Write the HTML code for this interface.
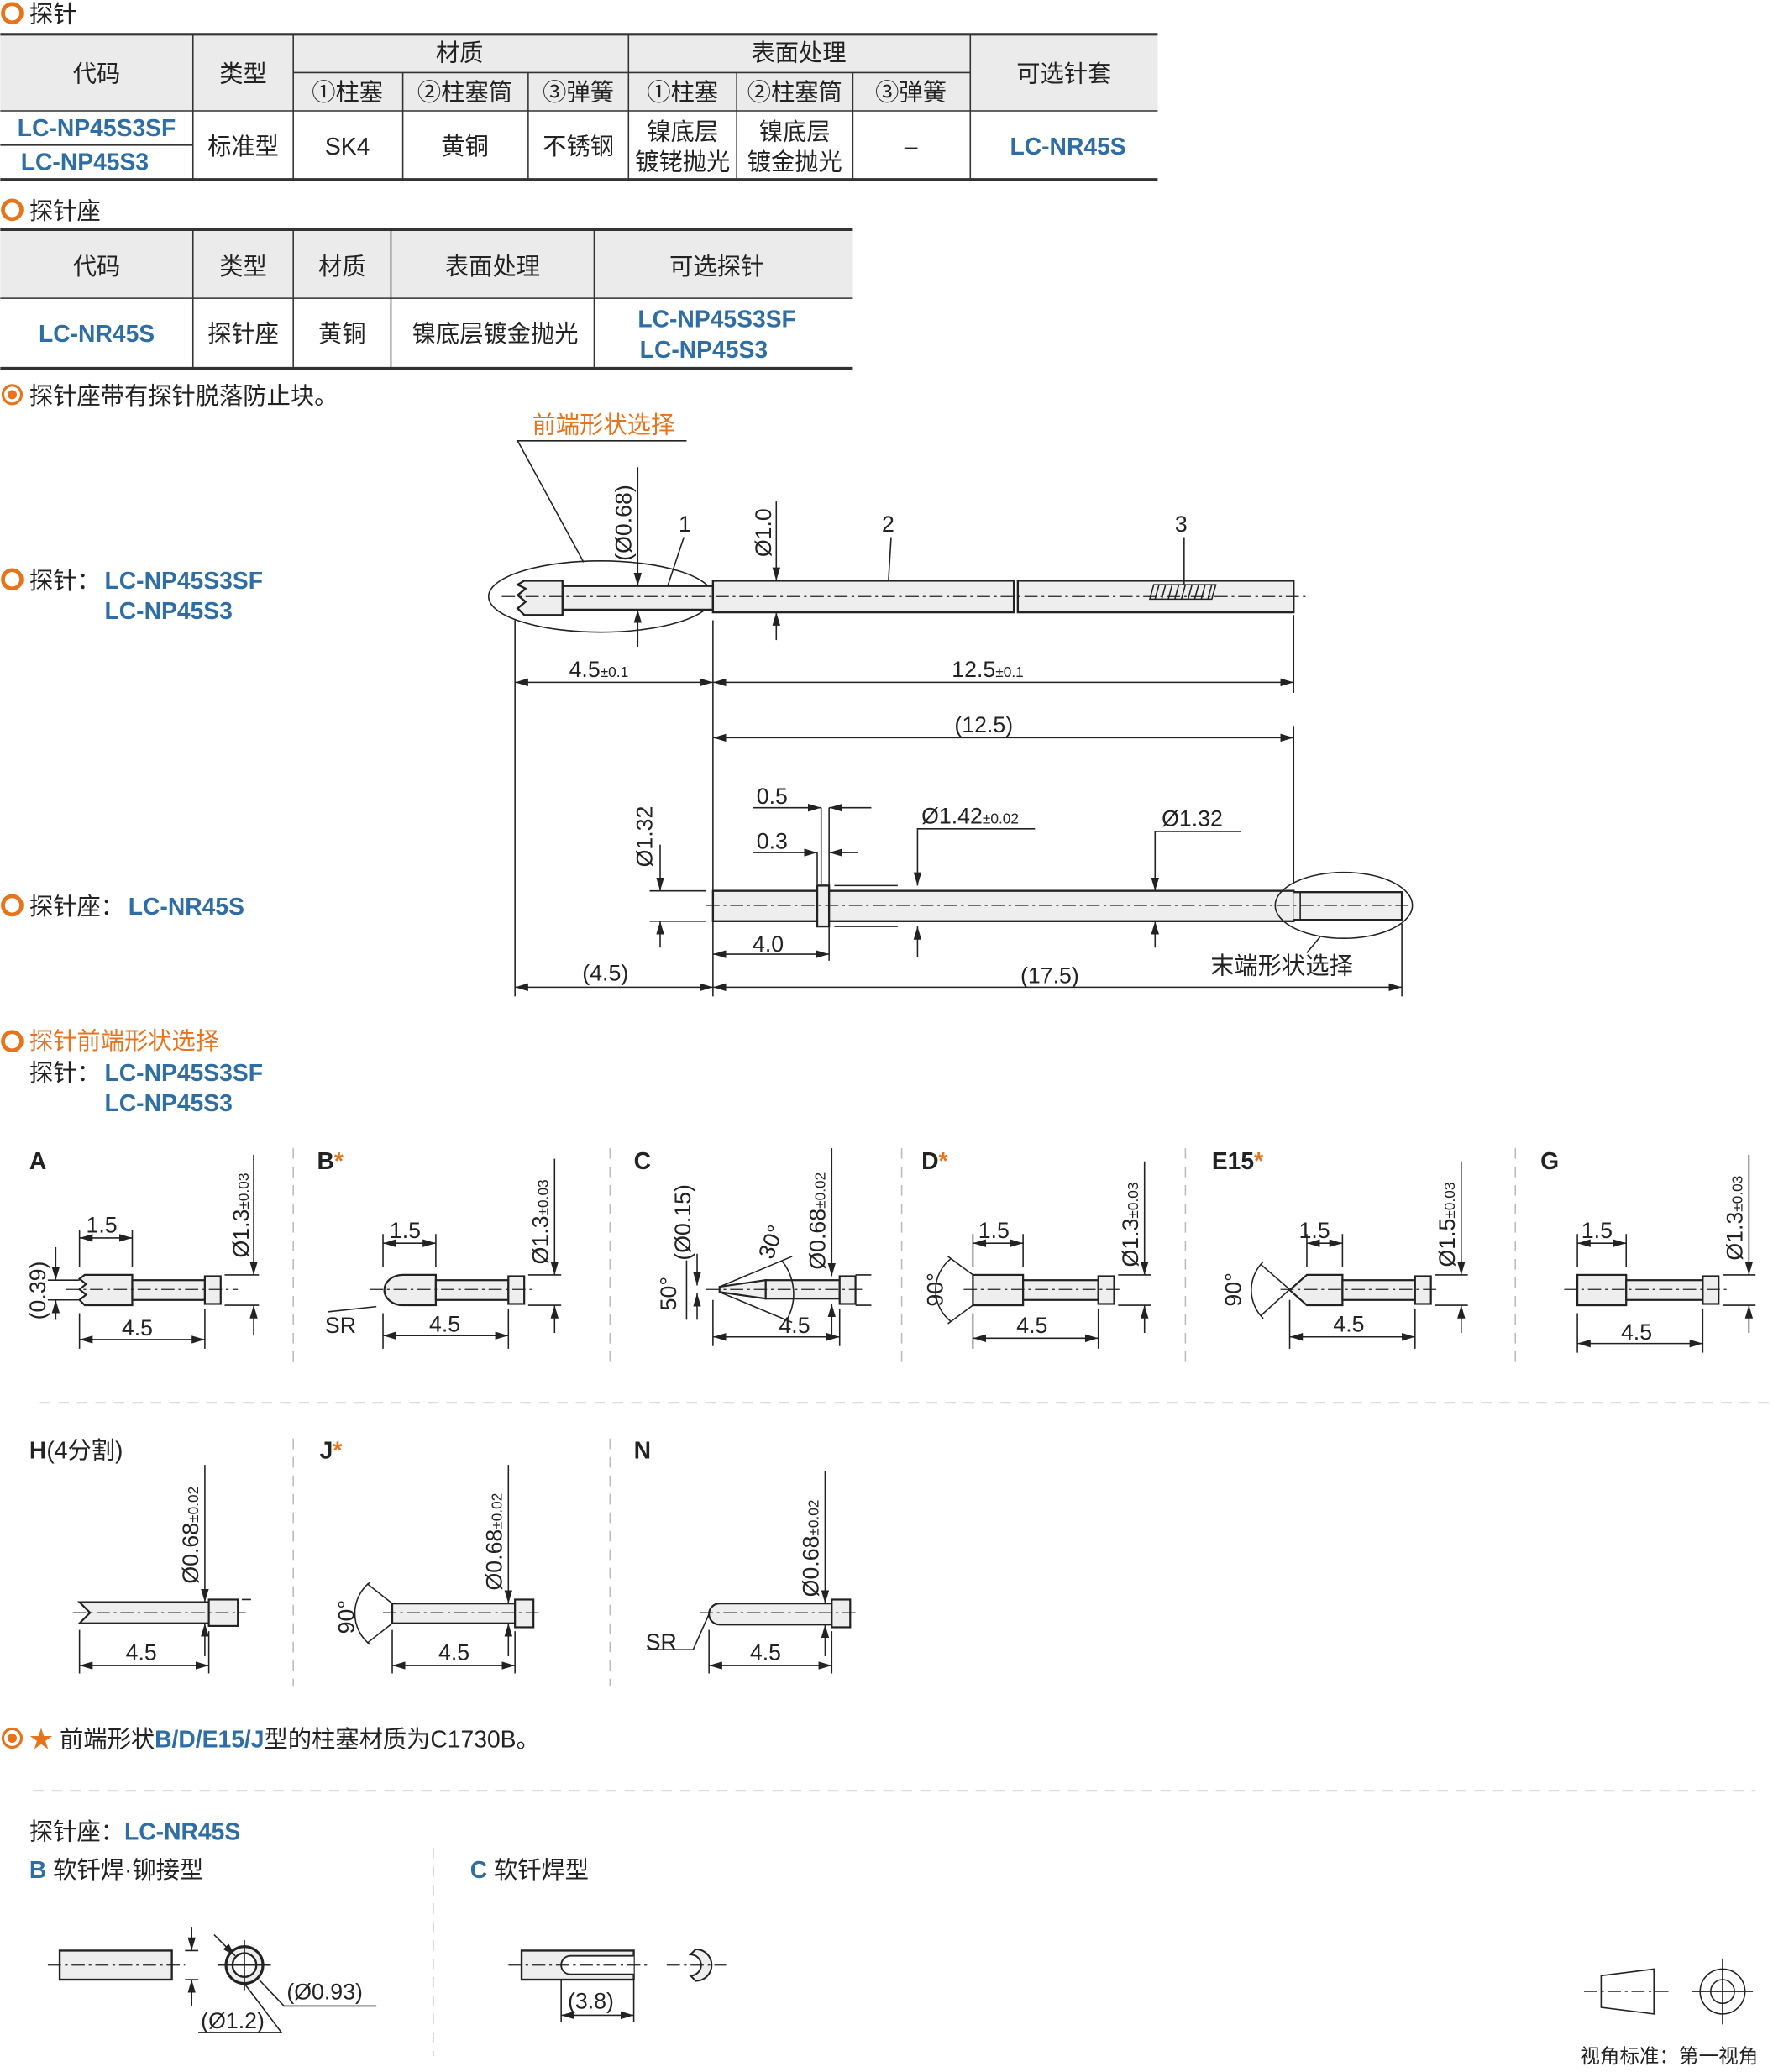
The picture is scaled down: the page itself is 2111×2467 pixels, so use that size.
<!DOCTYPE html>
<html><head><meta charset="utf-8"><style>
html,body{margin:0;padding:0;background:#fff}
svg{display:block}
text{font-family:"Liberation Sans","Noto Sans CJK SC",sans-serif;fill:#222}
.t{font-size:18px}
.b{fill:#2f6ea4;font-weight:bold}
.o{fill:#e8731a}
.d{font-size:17px}
.s{font-size:11px}
.ln{stroke:#222;stroke-width:1;fill:none}
.cl{stroke:#222;stroke-width:0.8;stroke-dasharray:10 3 2 3;fill:none}
.sep{stroke:#bbb;stroke-width:1;stroke-dasharray:8 6}
</style></head><body>
<svg width="2111" height="2467" viewBox="0 0 1343 1570" xmlns="http://www.w3.org/2000/svg">
<defs>
<marker id="a" viewBox="0 0 10 6" refX="10" refY="3" markerWidth="10" markerHeight="6" orient="auto-start-reverse" markerUnits="userSpaceOnUse"><path d="M0,0L10,3L0,6z" fill="#222"/></marker>
<g id="oc"><circle r="7" fill="none" stroke="#e8731a" stroke-width="3"/></g>
<g id="oc2"><circle r="7" fill="none" stroke="#e8731a" stroke-width="2"/><circle r="3.5" fill="#e8731a"/></g>
</defs>

<!-- Table 1 -->
<use href="#oc" x="9" y="10"/><text x="22" y="17" class="t">探针</text>
<rect x="0" y="26" width="877" height="58" fill="#ebebeb"/>
<g stroke="#333" stroke-width="1">
<line x1="0" y1="26" x2="877" y2="26" stroke-width="2"/>
<line x1="0" y1="84" x2="877" y2="84"/>
<line x1="0" y1="136" x2="877" y2="136" stroke-width="2"/>
<line x1="222" y1="55" x2="735" y2="55"/>
<line x1="0" y1="110" x2="146" y2="110"/>
<line x1="146" y1="26" x2="146" y2="136"/><line x1="222" y1="26" x2="222" y2="136"/>
<line x1="305" y1="55" x2="305" y2="136"/><line x1="400" y1="55" x2="400" y2="136"/>
<line x1="476" y1="26" x2="476" y2="136"/><line x1="558" y1="55" x2="558" y2="136"/>
<line x1="646" y1="55" x2="646" y2="136"/><line x1="735" y1="26" x2="735" y2="136"/>
</g>
<g class="t" text-anchor="middle">
<text x="73" y="62">代码</text><text x="184" y="62">类型</text><text x="348" y="46">材质</text><text x="605" y="46">表面处理</text><text x="806" y="62">可选针套</text>
<text x="263" y="76">①柱塞</text><text x="352" y="76">②柱塞筒</text><text x="438" y="76">③弹簧</text>
<text x="517" y="76">①柱塞</text><text x="602" y="76">②柱塞筒</text><text x="690" y="76">③弹簧</text>
<text x="73" y="103" class="b">LC-NP45S3SF</text><text x="64" y="129" class="b">LC-NP45S3</text>
<text x="184" y="117">标准型</text><text x="263" y="117">SK4</text><text x="352" y="117">黄铜</text><text x="438" y="117">不锈钢</text>
<text x="517" y="106">镍底层</text><text x="517" y="129">镀铑抛光</text>
<text x="602" y="106">镍底层</text><text x="602" y="129">镀金抛光</text>
<text x="690" y="117">–</text><text x="809" y="117" class="b">LC-NR45S</text>
</g>

<!-- Table 2 -->
<use href="#oc" x="9" y="159"/><text x="22" y="166" class="t">探针座</text>
<rect x="0" y="174" width="646" height="52" fill="#ebebeb"/>
<g stroke="#333" stroke-width="1">
<line x1="0" y1="174" x2="646" y2="174" stroke-width="2"/>
<line x1="0" y1="226" x2="646" y2="226"/>
<line x1="0" y1="279" x2="646" y2="279" stroke-width="2"/>
<line x1="146" y1="174" x2="146" y2="279"/><line x1="222" y1="174" x2="222" y2="279"/>
<line x1="296" y1="174" x2="296" y2="279"/><line x1="450" y1="174" x2="450" y2="279"/>
</g>
<g class="t" text-anchor="middle">
<text x="73" y="208">代码</text><text x="184" y="208">类型</text><text x="259" y="208">材质</text><text x="373" y="208">表面处理</text><text x="543" y="208">可选探针</text>
<text x="73" y="259" class="b">LC-NR45S</text><text x="184" y="259">探针座</text><text x="259" y="259">黄铜</text><text x="375" y="259">镍底层镀金抛光</text>
<text x="543" y="248" class="b">LC-NP45S3SF</text><text x="533" y="271" class="b">LC-NP45S3</text>
</g>
<use href="#oc2" x="9" y="299"/><text x="22" y="306" class="t">探针座带有探针脱落防止块。</text>

<!-- Probe drawing -->
<text x="22" y="446" class="t">探针：</text><text x="79" y="446" class="t b">LC-NP45S3SF</text><text x="79" y="469" class="t b">LC-NP45S3</text>
<use href="#oc" x="9" y="439"/>
<text x="457" y="328" class="t o" text-anchor="middle">前端形状选择</text>
<path class="ln" d="M520,334H392L442,426"/>
<ellipse cx="455" cy="452" rx="85" ry="27" class="ln"/>
<path d="M426,444H540V462H426Z" fill="#eee" stroke="#222" stroke-width="1.5"/>
<path d="M397,440H426V466H397L392,461L398,456L392,451L398,446L392,443Z" fill="#eee" stroke="#222" stroke-width="1.5"/>
<rect x="540" y="440" width="228" height="24" fill="#eee" stroke="#222" stroke-width="1.5"/>
<rect x="771" y="440" width="209" height="24" fill="#eee" stroke="#222" stroke-width="1.5"/>
<g class="ln"><path d="M874,443h47l-3,11h-47zM878,443l-3,11M883,443l-3,11M888,443l-3,11M893,443l-3,11M898,443l-3,11M903,443l-3,11M908,443l-3,11M913,443l-3,11M918,443l-3,11"/></g>
<line x1="380" y1="452" x2="992" y2="452" class="cl"/>
<line x1="483" y1="354" x2="483" y2="444" class="ln" marker-end="url(#a)"/>
<line x1="483" y1="490" x2="483" y2="462" class="ln" marker-end="url(#a)"/>
<text transform="translate(478,425) rotate(-90)" class="d">(Ø0.68)</text>
<line x1="588" y1="380" x2="588" y2="440" class="ln" marker-end="url(#a)"/>
<line x1="588" y1="485" x2="588" y2="464" class="ln" marker-end="url(#a)"/>
<text transform="translate(584,422) rotate(-90)" class="d">Ø1.0</text>
<text x="514" y="403" class="d">1</text><line x1="518" y1="407" x2="506" y2="443" class="ln"/>
<text x="668" y="403" class="d">2</text><line x1="675" y1="407" x2="673" y2="440" class="ln"/>
<text x="890" y="403" class="d">3</text><line x1="897" y1="407" x2="897" y2="443" class="ln"/>
<g class="ln"><line x1="390" y1="470" x2="390" y2="755"/><line x1="540" y1="470" x2="540" y2="755"/><line x1="980" y1="466" x2="980" y2="525"/></g>
<line x1="390" y1="517" x2="540" y2="517" class="ln" marker-start="url(#a)" marker-end="url(#a)"/>
<line x1="540" y1="517" x2="980" y2="517" class="ln" marker-start="url(#a)" marker-end="url(#a)"/>
<text x="431" y="513" class="d">4.5<tspan class="s">±0.1</tspan></text>
<text x="721" y="513" class="d">12.5<tspan class="s">±0.1</tspan></text>

<!-- Socket drawing -->
<text x="22" y="693" class="t">探针座：</text><text x="97" y="693" class="t b">LC-NR45S</text><use href="#oc" x="9" y="686"/>
<line x1="980" y1="550" x2="980" y2="670" class="ln"/>
<line x1="540" y1="559" x2="980" y2="559" class="ln" marker-start="url(#a)" marker-end="url(#a)"/>
<text x="723" y="555" class="d">(12.5)</text>
<rect x="540" y="675" width="440" height="23" fill="#eee" stroke="#222" stroke-width="1.5"/>
<rect x="619" y="671" width="9" height="31" fill="#eee" stroke="#222" stroke-width="1.5"/>
<path d="M980,676H1062V697H980" fill="#eee" stroke="#222" stroke-width="1.5"/>
<line x1="985" y1="676" x2="985" y2="697" class="ln"/>
<ellipse cx="1018" cy="686" rx="52" ry="25" class="ln"/>
<line x1="535" y1="686" x2="1070" y2="686" class="cl"/>
<g class="ln"><line x1="492" y1="675" x2="535" y2="675"/><line x1="492" y1="698" x2="535" y2="698"/>
<line x1="622" y1="612" x2="622" y2="670"/><line x1="628" y1="612" x2="628" y2="728"/><line x1="619" y1="646" x2="619" y2="670"/>
<line x1="632" y1="671" x2="680" y2="671"/><line x1="632" y1="702" x2="680" y2="702"/></g>
<line x1="500" y1="640" x2="500" y2="675" class="ln" marker-end="url(#a)"/>
<line x1="500" y1="718" x2="500" y2="698" class="ln" marker-end="url(#a)"/>
<text transform="translate(494,657) rotate(-90)" class="d">Ø1.32</text>
<line x1="570" y1="612" x2="622" y2="612" class="ln" marker-end="url(#a)"/>
<line x1="660" y1="612" x2="628" y2="612" class="ln" marker-end="url(#a)"/>
<text x="573" y="609" class="d">0.5</text>
<line x1="570" y1="646" x2="619" y2="646" class="ln" marker-end="url(#a)"/>
<line x1="650" y1="646" x2="628" y2="646" class="ln" marker-end="url(#a)"/>
<text x="573" y="643" class="d">0.3</text>
<path class="ln" d="M784,628H695V671" marker-end="url(#a)"/>
<line x1="695" y1="725" x2="695" y2="702" class="ln" marker-end="url(#a)"/>
<text x="698" y="624" class="d">Ø1.42<tspan class="s">±0.02</tspan></text>
<path class="ln" d="M940,630H875V675" marker-end="url(#a)"/>
<line x1="875" y1="718" x2="875" y2="698" class="ln" marker-end="url(#a)"/>
<text x="880" y="626" class="d">Ø1.32</text>
<line x1="540" y1="723" x2="628" y2="723" class="ln" marker-start="url(#a)" marker-end="url(#a)"/>
<text x="570" y="721" class="d">4.0</text>
<line x1="1062" y1="700" x2="1062" y2="755" class="ln"/>
<line x1="390" y1="748" x2="540" y2="748" class="ln" marker-start="url(#a)" marker-end="url(#a)"/>
<line x1="540" y1="748" x2="1062" y2="748" class="ln" marker-start="url(#a)" marker-end="url(#a)"/>
<text x="441" y="743" class="d">(4.5)</text><text x="773" y="745" class="d">(17.5)</text>
<text x="917" y="738" class="t">末端形状选择</text><line x1="1000" y1="710" x2="990" y2="722" class="ln"/>

<!-- Tip shapes -->
<use href="#oc" x="9" y="789"/><text x="22" y="795" class="t o">探针前端形状选择</text>
<text x="22" y="819" class="t">探针：</text><text x="79" y="819" class="t b">LC-NP45S3SF</text><text x="79" y="842" class="t b">LC-NP45S3</text>
<g class="sep"><line x1="222" y1="870" x2="222" y2="1035"/><line x1="462" y1="870" x2="462" y2="1035"/><line x1="683" y1="870" x2="683" y2="1035"/><line x1="898" y1="870" x2="898" y2="1035"/><line x1="1148" y1="870" x2="1148" y2="1035"/>
<line x1="30" y1="1063" x2="1340" y2="1063"/><line x1="222" y1="1090" x2="222" y2="1278"/><line x1="462" y1="1090" x2="462" y2="1278"/>
<line x1="25" y1="1357" x2="1330" y2="1357"/><line x1="328" y1="1400" x2="328" y2="1558"/></g>
<g class="t b"><text x="22" y="886">A</text><text x="240" y="886">B<tspan class="o">*</tspan></text><text x="480" y="886">C</text><text x="698" y="886">D<tspan class="o">*</tspan></text><text x="918" y="886">E15<tspan class="o">*</tspan></text><text x="1167" y="886">G</text>
<text x="22" y="1105">H<tspan fill="#222" font-weight="normal">(4分割)</tspan></text><text x="242" y="1105">J<tspan class="o">*</tspan></text><text x="480" y="1105">N</text></g>

<g stroke="#222" stroke-width="1.4" fill="#eee">
<path d="M64,966H100V989H64L60,985L65,981L60,977L65,973L60,969Z"/><rect x="100" y="970" width="55" height="15"/><rect x="155" y="967" width="12" height="21"/>
<path d="M305,966H330V989H305A14,11.5 0 0 1 305,966Z"/><rect x="330" y="970" width="55" height="15"/><rect x="385" y="967" width="12" height="21"/>
<path d="M545,975L580,970V984L545,979Z"/><rect x="580" y="970" width="56" height="14"/><rect x="636" y="967" width="12" height="21"/>
<rect x="737" y="966" width="38" height="23"/><rect x="775" y="970" width="57" height="15"/><rect x="832" y="967" width="12" height="21"/>
<path d="M990,966H1017V989H990L977,977.5Z"/><rect x="1017" y="970" width="55" height="15"/><rect x="1072" y="967" width="12" height="21"/>
<rect x="1195" y="966" width="37" height="23"/><rect x="1232" y="970" width="58" height="15"/><rect x="1290" y="967" width="12" height="21"/>
<path d="M60,1214H158V1230H60L68,1222Z"/><rect x="158" y="1212" width="22" height="20"/>
<rect x="297" y="1215" width="93" height="15"/><rect x="390" y="1212" width="14" height="21"/>
<path d="M545,1215H630V1231H545A8,8 0 0 1 545,1215Z"/><rect x="630" y="1212" width="14" height="21"/>
</g>
<g class="cl">
<line x1="50" y1="977" x2="180" y2="977"/><line x1="280" y1="977" x2="405" y2="977"/><line x1="535" y1="977" x2="655" y2="977"/><line x1="730" y1="977" x2="850" y2="977"/><line x1="970" y1="977" x2="1090" y2="977"/><line x1="1185" y1="977" x2="1308" y2="977"/>
<line x1="55" y1="1222" x2="186" y2="1222"/><line x1="290" y1="1222" x2="410" y2="1222"/><line x1="530" y1="1222" x2="650" y2="1222"/>
</g>
<g class="ln">
<path d="M60,995V1022M155,992V1022M60,960V932M100,960V932M170,966H196M170,989H196"/>
<path d="M290,995V1022M385,992V1022M290,960V935M330,960V935M400,966H425M400,989H425"/>
<path d="M540,985V1020M636,992V1020M648,966H660M648,989H660"/>
<path d="M737,995V1022M832,992V1022M737,960V935M775,960V935M847,966H872M847,989H872"/>
<path d="M977,985V1022M1072,992V1022M990,960V935M1017,960V935M1087,966H1112M1087,989H1112"/>
<path d="M1195,995V1025M1290,992V1025M1195,960V935M1232,960V935M1305,966H1330M1305,989H1330"/>
<path d="M60,1235V1268M158,1236V1268M183,1212H190M297,1235V1268M390,1236V1268M537,1235V1268M630,1236V1268"/>
<path d="M36,970H60M36,985H60M248,994L285,990M545,975L600,952M545,979L600,1002M737,966L718,952M737,989L718,1003M977,977L955,958M977,977L955,997M297,1215L278,1200M297,1230L278,1245M537,1223L525,1250H490"/>
</g>
<g class="ln">
<line x1="60" y1="1015" x2="155" y2="1015" marker-start="url(#a)" marker-end="url(#a)"/><line x1="60" y1="938" x2="100" y2="938" marker-start="url(#a)" marker-end="url(#a)"/>
<line x1="290" y1="1012" x2="385" y2="1012" marker-start="url(#a)" marker-end="url(#a)"/><line x1="290" y1="942" x2="330" y2="942" marker-start="url(#a)" marker-end="url(#a)"/>
<line x1="540" y1="1013" x2="636" y2="1013" marker-start="url(#a)" marker-end="url(#a)"/>
<line x1="737" y1="1014" x2="832" y2="1014" marker-start="url(#a)" marker-end="url(#a)"/><line x1="737" y1="942" x2="775" y2="942" marker-start="url(#a)" marker-end="url(#a)"/>
<line x1="977" y1="1013" x2="1072" y2="1013" marker-start="url(#a)" marker-end="url(#a)"/><line x1="990" y1="942" x2="1017" y2="942" marker-start="url(#a)" marker-end="url(#a)"/>
<line x1="1195" y1="1018" x2="1290" y2="1018" marker-start="url(#a)" marker-end="url(#a)"/><line x1="1195" y1="942" x2="1232" y2="942" marker-start="url(#a)" marker-end="url(#a)"/>
<line x1="60" y1="1262" x2="158" y2="1262" marker-start="url(#a)" marker-end="url(#a)"/>
<line x1="297" y1="1262" x2="390" y2="1262" marker-start="url(#a)" marker-end="url(#a)"/>
<line x1="537" y1="1262" x2="630" y2="1262" marker-start="url(#a)" marker-end="url(#a)"/>
<line x1="192" y1="875" x2="192" y2="966" marker-end="url(#a)"/><line x1="192" y1="1012" x2="192" y2="989" marker-end="url(#a)"/>
<line x1="420" y1="878" x2="420" y2="966" marker-end="url(#a)"/><line x1="420" y1="1010" x2="420" y2="989" marker-end="url(#a)"/>
<line x1="630" y1="870" x2="630" y2="967" marker-end="url(#a)"/><line x1="630" y1="1012" x2="630" y2="988" marker-end="url(#a)"/>
<line x1="867" y1="880" x2="867" y2="966" marker-end="url(#a)"/><line x1="867" y1="1010" x2="867" y2="989" marker-end="url(#a)"/>
<line x1="1107" y1="880" x2="1107" y2="966" marker-end="url(#a)"/><line x1="1107" y1="1010" x2="1107" y2="989" marker-end="url(#a)"/>
<line x1="1325" y1="875" x2="1325" y2="966" marker-end="url(#a)"/><line x1="1325" y1="1010" x2="1325" y2="989" marker-end="url(#a)"/>
<line x1="155" y1="1110" x2="155" y2="1214" marker-end="url(#a)"/><line x1="155" y1="1255" x2="155" y2="1230" marker-end="url(#a)"/>
<line x1="385" y1="1110" x2="385" y2="1215" marker-end="url(#a)"/><line x1="385" y1="1255" x2="385" y2="1230" marker-end="url(#a)"/>
<line x1="625" y1="1115" x2="625" y2="1215" marker-end="url(#a)"/><line x1="625" y1="1255" x2="625" y2="1231" marker-end="url(#a)"/>
<line x1="42" y1="945" x2="42" y2="970" marker-end="url(#a)"/><line x1="42" y1="1000" x2="42" y2="985" marker-end="url(#a)"/>
<line x1="520" y1="955" x2="520" y2="1000"/><line x1="528" y1="950" x2="528" y2="974" marker-end="url(#a)"/><line x1="528" y1="1000" x2="528" y2="980" marker-end="url(#a)"/>
<path d="M592,955A40,40 0 0 1 596,1000"/><path d="M720,954A30,30 0 0 0 720,1001"/><path d="M957,956A30,30 0 0 0 957,999"/><path d="M280,1199A30,30 0 0 0 280,1246"/>
</g>
<g class="d">
<text x="65" y="934">1.5</text><text x="92" y="1012">4.5</text>
<text x="295" y="938">1.5</text><text x="325" y="1009">4.5</text><text x="246" y="1010">SR</text>
<text x="590" y="1010">4.5</text>
<text x="741" y="938">1.5</text><text x="770" y="1010">4.5</text>
<text x="984" y="938">1.5</text><text x="1010" y="1009">4.5</text>
<text x="1198" y="938">1.5</text><text x="1228" y="1015">4.5</text>
<text x="95" y="1258">4.5</text><text x="332" y="1258">4.5</text><text x="568" y="1258">4.5</text><text x="489" y="1250">SR</text>
<text transform="translate(34,1000) rotate(-90)">(0.39)</text>
<text transform="translate(188,953) rotate(-90)">Ø1.3<tspan class="s">±0.03</tspan></text>
<text transform="translate(415,958) rotate(-90)">Ø1.3<tspan class="s">±0.03</tspan></text>
<text transform="translate(625,962) rotate(-90)">Ø0.68<tspan class="s">±0.02</tspan></text>
<text transform="translate(862,960) rotate(-90)">Ø1.3<tspan class="s">±0.03</tspan></text>
<text transform="translate(1102,960) rotate(-90)">Ø1.5<tspan class="s">±0.03</tspan></text>
<text transform="translate(1320,955) rotate(-90)">Ø1.3<tspan class="s">±0.03</tspan></text>
<text transform="translate(150,1200) rotate(-90)">Ø0.68<tspan class="s">±0.02</tspan></text>
<text transform="translate(380,1205) rotate(-90)">Ø0.68<tspan class="s">±0.02</tspan></text>
<text transform="translate(620,1210) rotate(-90)">Ø0.68<tspan class="s">±0.02</tspan></text>
<text transform="translate(523,955) rotate(-90)">(Ø0.15)</text>
<text transform="translate(512,993) rotate(-90)">50°</text>
<text transform="translate(585,955) rotate(-70)">30°</text>
<text transform="translate(714,990) rotate(-90)">90°</text>
<text transform="translate(940,990) rotate(-90)">90°</text>
<text transform="translate(268,1238) rotate(-90)">90°</text>
</g>

<use href="#oc2" x="9" y="1317"/>
<text x="22" y="1324" class="t"><tspan class="o">★</tspan> 前端形状<tspan class="b" font-weight="normal">B/D/E15/J</tspan>型的柱塞材质为C1730B。</text>

<text x="22" y="1394" class="t">探针座：<tspan class="b">LC-NR45S</tspan></text>
<text x="22" y="1423" class="t"><tspan class="b">B</tspan> 软钎焊·铆接型</text>
<text x="356" y="1423" class="t"><tspan class="b">C</tspan> 软钎焊型</text>
<rect x="45" y="1478" width="85" height="22" fill="#eee" stroke="#222" stroke-width="1.5"/>
<line x1="36" y1="1489" x2="140" y2="1489" class="cl"/>
<circle cx="185" cy="1489" r="14" fill="#eee" stroke="#222" stroke-width="2"/><circle cx="185" cy="1489" r="9" fill="#fff" stroke="#222" stroke-width="1.5"/>
<g class="ln"><path d="M165,1489H205M185,1470V1508M140,1478H150M140,1500H150M145,1460V1478M145,1520V1500M150,1540H213L185,1503M285,1520H215L196,1500"/></g>
<line x1="145" y1="1462" x2="145" y2="1478" class="ln" marker-end="url(#a)"/><line x1="145" y1="1518" x2="145" y2="1500" class="ln" marker-end="url(#a)"/>
<line x1="162" y1="1466" x2="178" y2="1482" class="ln" marker-end="url(#a)"/>
<text x="152" y="1537" class="d">(Ø1.2)</text><text x="217" y="1515" class="d">(Ø0.93)</text>
<rect x="395" y="1478" width="85" height="22" fill="#eee" stroke="#222" stroke-width="1.5"/>
<path d="M480,1482H432A7,7 0 0 0 432,1496H480" fill="#fff" stroke="#222" stroke-width="1.2"/>
<line x1="385" y1="1489" x2="490" y2="1489" class="cl"/>
<path d="M527,1477A12,12 0 0 1 527,1501L523,1497A8,8 0 0 0 523,1481Z" fill="#eee" stroke="#222" stroke-width="1.3"/>
<line x1="505" y1="1489" x2="550" y2="1489" class="cl"/>
<g class="ln"><path d="M425,1500V1532M480,1500V1532"/></g>
<line x1="425" y1="1527" x2="480" y2="1527" class="ln" marker-start="url(#a)" marker-end="url(#a)"/>
<text x="430" y="1522" class="d">(3.8)</text>

<g class="ln">
<path d="M1213,1497L1253,1492V1526L1213,1521Z"/>
<line x1="1200" y1="1509" x2="1265" y2="1509" class="cl"/>
<circle cx="1305" cy="1509" r="17"/><circle cx="1305" cy="1509" r="9"/>
<path d="M1282,1509H1328M1305,1484V1534"/>
</g>
<text x="1197" y="1563" font-size="15">视角标准：第一视角</text>
</svg>
</body></html>
